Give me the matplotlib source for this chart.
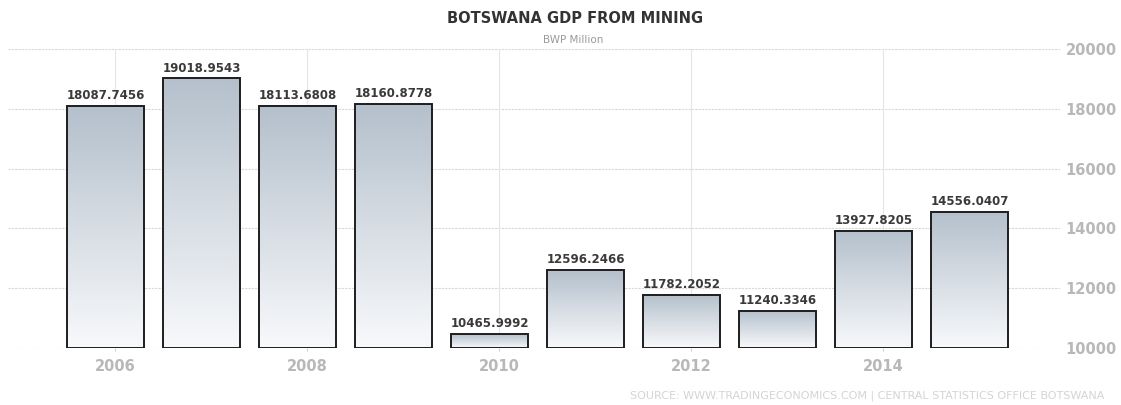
import numpy as np
import matplotlib.pyplot as plt
from matplotlib.colors import LinearSegmentedColormap
from matplotlib.patches import Rectangle

# Botswana GDP from mining, BWP million
years = [2006, 2007, 2008, 2009, 2010, 2011, 2012, 2013, 2014, 2015]
gdp_mining = [18087.7456, 19018.9543, 18113.6808, 18160.8778, 10465.9992,
              12596.2466, 11782.2052, 11240.3346, 13927.8205, 14556.0407]
tick_years = [2006, 2008, 2010, 2012, 2014]
y_ticks = [10000, 12000, 14000, 16000, 18000, 20000]

base = 10000
bar_w = 0.8
shift = -0.1

fig = plt.figure(figsize=(11.21, 4.05), dpi=100)
ax = fig.add_axes([0.0071, 0.1407, 0.9385, 0.738])

# light at the bottom, slate blue-grey at the top
grad_cmap = LinearSegmentedColormap.from_list("bar", ["#f8f9fb", "#b4c0cc"])
grad = np.linspace(0, 1, 256).reshape(-1, 1)

for yr, val in zip(years, gdp_mining):
    x0 = yr + shift - bar_w / 2
    x1 = yr + shift + bar_w / 2
    ax.imshow(grad, extent=[x0, x1, base, val], origin="lower", aspect="auto",
              cmap=grad_cmap, zorder=2, interpolation="bilinear")
    ax.add_patch(Rectangle((x0, base), bar_w, val - base, fill=False,
                           edgecolor="#1e1e1e", linewidth=1.4, zorder=3))
    ax.annotate(f"{val:.4f}", xy=(yr + shift, val), xytext=(0, 5),
                textcoords="offset points", ha="center", va="baseline",
                fontsize=8.5, fontweight="bold", color="#3a3a3a")

ax.set_xlim(2004.885, 2015.84)
ax.set_ylim(base, 20000)

# grid
for t in y_ticks:
    ax.axhline(t, color="#d8d8d8", linewidth=0.8, linestyle=(0, (2, 1)), zorder=1)
for t in tick_years:
    ax.axvline(t, color="#e6e6e6", linewidth=0.8, zorder=1)

for s in ax.spines.values():
    s.set_visible(False)

ax.set_xticks(tick_years)
ax.set_xticklabels([str(t) for t in tick_years])
ax.set_yticks(y_ticks)
ax.yaxis.tick_right()
ax.tick_params(axis="x", length=2, color="#d0d0d0", pad=6,
               labelsize=10.5, labelcolor="#b8b8b8")
ax.tick_params(axis="y", length=0, pad=4, labelsize=10.5, labelcolor="#b8b8b8")
for lbl in ax.get_xticklabels() + ax.get_yticklabels():
    lbl.set_fontweight("bold")

fig.text(0.513, 0.955, "BOTSWANA GDP FROM MINING", ha="center", va="center",
         fontsize=10.5, fontweight="bold", color="#333333")
fig.text(0.511, 0.901, "BWP Million", ha="center", va="center",
         fontsize=7.5, color="#9a9a9a")
fig.text(0.985, 0.022, "SOURCE: WWW.TRADINGECONOMICS.COM | CENTRAL STATISTICS OFFICE BOTSWANA",
         ha="right", va="center", fontsize=8, color="#d4d4d4")

fig.savefig("out.png", dpi=100)
